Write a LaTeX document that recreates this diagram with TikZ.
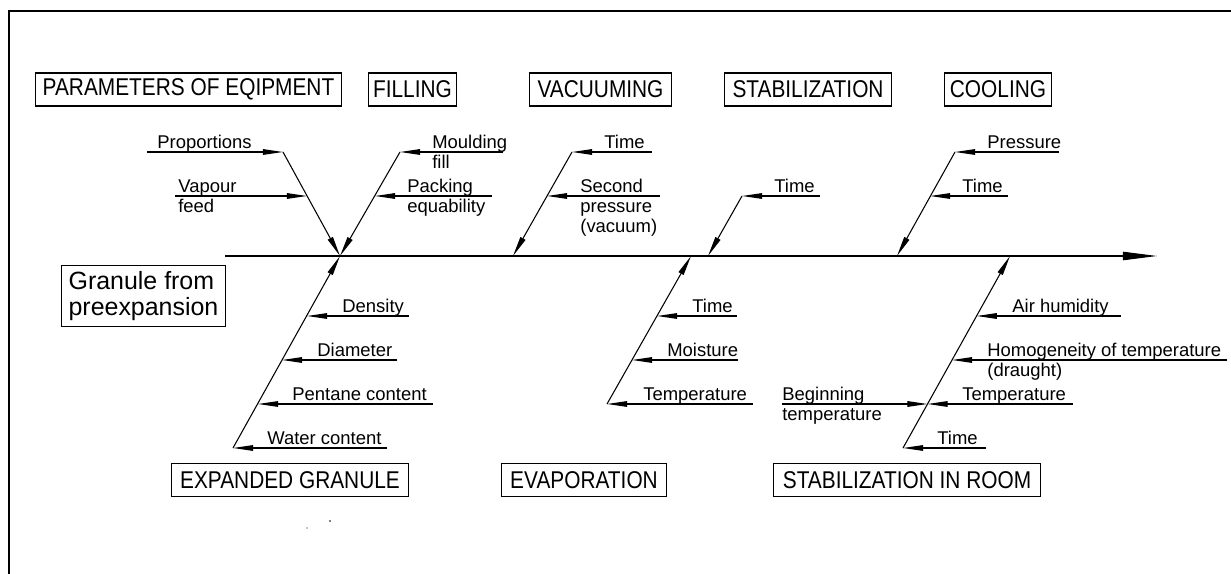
\documentclass[tikz,border=0pt]{standalone}
\usepackage{fontspec}
\setmainfont{Liberation Sans}
\newfontfamily\kopfont[FakeStretch=0.86]{Liberation Sans}
\usetikzlibrary{arrows.meta}
% first line sits on the anchor, the rest hang below
\newcommand{\toplines}[1]{\begin{tabular}[t]{@{}l@{}}#1\end{tabular}}

\begin{document}
\begin{tikzpicture}[
        x=0.02cm, y=-0.02cm,
        kop/.style={draw, line width=0.6pt, inner sep=0pt, minimum height=18.8pt,
            font=\kopfont\fontsize{13.8}{16}\selectfont},
        lbl/.style={inner sep=0pt, anchor=base west,
            font=\fontsize{10.5}{11.3}\selectfont},
        bone/.style={line width=0.6pt, -{Triangle[length=11.5pt, width=3.2pt]}},
        spine/.style={line width=0.6pt, -{Triangle[length=19.5pt, width=4.8pt]}}
    ]
        \useasboundingbox (0,0) rectangle (1231,574);
        \draw[line width=1.3pt] (9,574) -- (9,11) -- (1231,11);

        % headers
        \node[kop, minimum width=174pt] (equip) at (188.5,89.5) {PARAMETERS OF EQIPMENT};
        \node[kop, minimum width=50.5pt] (fill) at (412.5,89.5) {FILLING};
        \node[kop, minimum width=81.1pt] (vac) at (600.5,89.5) {VACUUMING};
        \node[kop, minimum width=95.2pt] (stab) at (808,89.5) {STABILIZATION};
        \node[kop, minimum width=61.2pt] (cool) at (998,89.5) {COOLING};
        \node[kop, minimum width=134.9pt, minimum height=19.3pt] (expand) at (290,480) {EXPANDED GRANULE};
        \node[kop, minimum width=94.1pt, minimum height=19.3pt] (evap) at (584,480) {EVAPORATION};
        \node[kop, minimum width=151.9pt, minimum height=19.3pt] (room) at (907,480) {STABILIZATION IN ROOM};
        \node[draw, line width=0.6pt, inner sep=0pt, minimum width=93.5pt, minimum height=35.1pt,
            align=left, font=\fontsize{14.2}{15.3}\selectfont] (granule) at (143.5,296) {Granule from\\preexpansion};

        % spine
        \coordinate (sL) at (225,256);
        \coordinate (sR) at (1157,256);
        \draw[spine] (sL) -- (sR);

        % parameters of equipment + filling
        \coordinate (j1) at (340,256);
        \coordinate (e1) at (283,152);
        \coordinate (e2) at (307,196);
        \coordinate (ep) at (147,152);
        \coordinate (ev) at (175,196);
        \draw[bone] (e1) -- (j1);
        \draw[bone] (ep) -- (e1);
        \draw[bone] (ev) -- (e2);
        \node[lbl] (prop) at (157,149) {Proportions};
        \node[lbl] (vap) at (178,193) {\toplines{Vapour\\feed}};

        \coordinate (f1) at (400,152);
        \coordinate (f2) at (375,196);
        \coordinate (fm) at (503,152);
        \coordinate (fp) at (492,196);
        \draw[bone] (f1) -- (j1);
        \draw[bone] (fm) -- (f1);
        \draw[bone] (fp) -- (f2);
        \node[lbl] (mould) at (432,149) {\toplines{Moulding\\fill}};
        \node[lbl] (pack) at (407,193) {\toplines{Packing\\equability}};

        % vacuuming
        \coordinate (j2) at (513,256);
        \coordinate (v1) at (572,152);
        \coordinate (v2) at (547,196);
        \coordinate (vt) at (652,152);
        \coordinate (vs) at (660,196);
        \draw[bone] (v1) -- (j2);
        \draw[bone] (vt) -- (v1);
        \draw[bone] (vs) -- (v2);
        \node[lbl] (vtime) at (604,149) {Time};
        \node[lbl] (vpress) at (580,193) {\toplines{Second\\pressure\\(vacuum)}};

        % stabilization
        \coordinate (j3) at (708,256);
        \coordinate (s1) at (742,196);
        \coordinate (st) at (820,196);
        \draw[bone] (s1) -- (j3);
        \draw[bone] (st) -- (s1);
        \node[lbl] (stime) at (774,193) {Time};

        % cooling
        \coordinate (j4) at (897,256);
        \coordinate (c1) at (955,152);
        \coordinate (c2) at (930,196);
        \coordinate (cp) at (1059,152);
        \coordinate (ct) at (1008,196);
        \draw[bone] (c1) -- (j4);
        \draw[bone] (cp) -- (c1);
        \draw[bone] (ct) -- (c2);
        \node[lbl] (cpress) at (987,149) {Pressure};
        \node[lbl] (ctime) at (962,193) {Time};

        % expanded granule
        \coordinate (x0) at (233,448);
        \coordinate (x1) at (307,316);
        \coordinate (x2) at (282,360);
        \coordinate (x3) at (258,404);
        \coordinate (xd) at (409,316);
        \coordinate (xm) at (397,360);
        \coordinate (xp) at (433,404);
        \coordinate (xw) at (387,448);
        \draw[bone] (x0) -- (j1);
        \draw[bone] (xd) -- (x1);
        \draw[bone] (xm) -- (x2);
        \draw[bone] (xp) -- (x3);
        \draw[bone] (xw) -- (x0);
        \node[lbl] (dens) at (342,312.5) {Density};
        \node[lbl] (diam) at (317,356.5) {Diameter};
        \node[lbl] (pent) at (292,400.5) {Pentane content};
        \node[lbl] (water) at (267,444.5) {Water content};

        % evaporation
        \coordinate (j5) at (691,256);
        \coordinate (p0) at (607,404);
        \coordinate (p1) at (657,316);
        \coordinate (p2) at (632,360);
        \coordinate (pt) at (737,316);
        \coordinate (pm) at (738,360);
        \coordinate (pe) at (753,404);
        \draw[bone] (p0) -- (j5);
        \draw[bone] (pt) -- (p1);
        \draw[bone] (pm) -- (p2);
        \draw[bone] (pe) -- (p0);
        \node[lbl] (ptime) at (692,312.5) {Time};
        \node[lbl] (pmoist) at (667,356.5) {Moisture};
        \node[lbl] (ptemp) at (643,400.5) {Temperature};

        % stabilization in room
        \coordinate (j6) at (1010,256);
        \coordinate (r0) at (903,448);
        \coordinate (r1) at (976.6,316);
        \coordinate (r2) at (952,360);
        \coordinate (r3) at (927.5,404);
        \coordinate (ra) at (1121,316);
        \coordinate (rh) at (1227,360);
        \coordinate (re) at (1073,404);
        \coordinate (rb) at (782,404);
        \coordinate (rt) at (986,448);
        \draw[bone] (r0) -- (j6);
        \draw[bone] (ra) -- (r1);
        \draw[bone] (rh) -- (r2);
        \draw[bone] (re) -- (r3);
        \draw[bone] (rb) -- (r3);
        \draw[bone] (rt) -- (r0);
        \node[lbl] (air) at (1012,312.5) {Air humidity};
        \node[lbl] (homog) at (987,356.5) {\toplines{Homogeneity of temperature\\(draught)}};
        \node[lbl] (rtemp) at (962,400.5) {Temperature};
        \node[lbl] (begin) at (782,400.5) {\toplines{Beginning\\temperature}};
        \node[lbl] (rtime) at (937,444.5) {Time};

        % stray specks
        \fill (330,521) circle (0.5pt);
        \fill (307,528) circle (0.3pt);
    \end{tikzpicture}
\end{document}
